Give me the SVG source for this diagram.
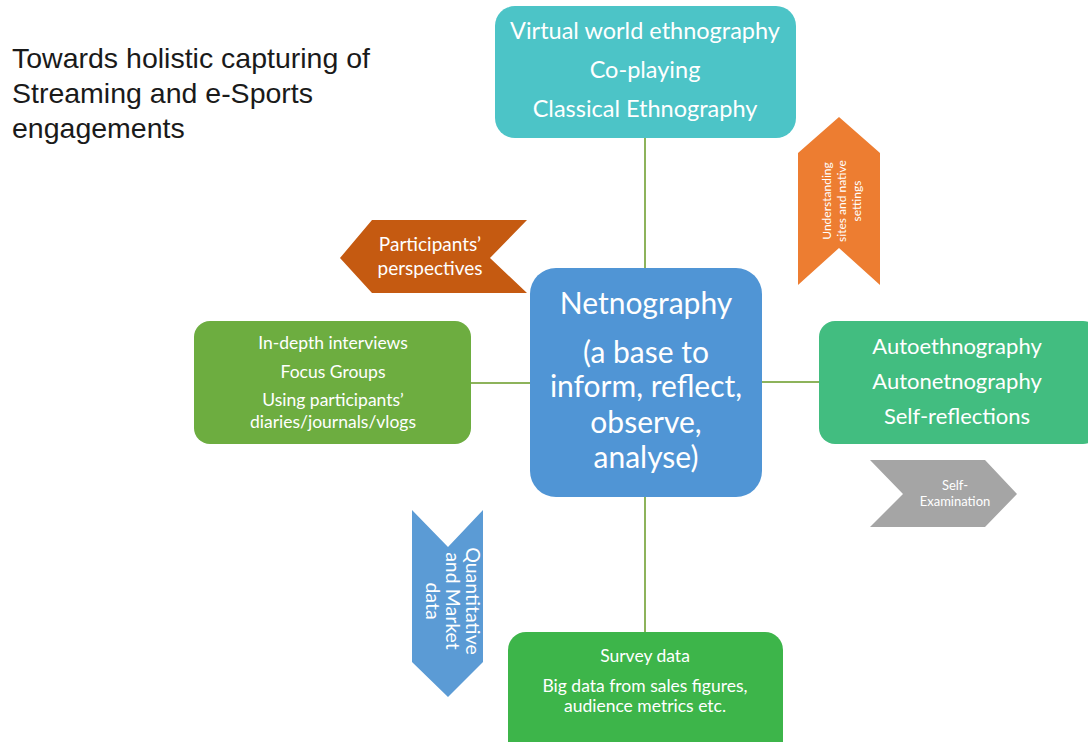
<svg xmlns="http://www.w3.org/2000/svg" width="1088" height="742" viewBox="0 0 1088 742">
<style>
.box text{fill:#fff;font-family:Lato,"Open Sans",sans-serif;text-anchor:middle}
.chev text{fill:#fff;font-family:Lato,"Open Sans",sans-serif;text-anchor:middle}
.title{font-family:"Liberation Sans",Arial,sans-serif;font-size:28.5px;fill:#1a1a1a}
.conn line{stroke:#8DB35B;stroke-width:2}
</style>
<rect width="1088" height="742" fill="#fff"/>
<g id="title">
<text class="title" x="12" y="68">Towards holistic capturing of</text>
<text class="title" x="12" y="103">Streaming and e-Sports</text>
<text class="title" x="12" y="138">engagements</text>
</g>
<g class="conn" id="connectors">
<line x1="645" y1="138" x2="645" y2="268"/>
<line x1="471" y1="383" x2="530" y2="383"/>
<line x1="762" y1="382" x2="819" y2="382"/>
<line x1="645" y1="497" x2="645" y2="632"/>
</g>
<g class="box" id="top">
<rect x="495" y="6" width="301" height="132" rx="20" fill="#4CC4C7"/>
<text x="645" y="39" font-size="23.5">Virtual world ethnography</text>
<text x="645" y="78" font-size="23.5">Co-playing</text>
<text x="645" y="117" font-size="23.5">Classical Ethnography</text>
</g>
<g class="box" id="center">
<rect x="530" y="268" width="232" height="229" rx="26" fill="#5095D5"/>
<text x="646" y="314" font-size="30">Netnography</text>
<text x="646" y="363" font-size="30">(a base to</text>
<text x="646" y="397" font-size="30">inform, reflect,</text>
<text x="646" y="433" font-size="30">observe,</text>
<text x="646" y="468" font-size="30">analyse)</text>
</g>
<g class="box" id="left">
<rect x="194" y="321" width="277" height="123" rx="16" fill="#6DAD40"/>
<text x="333" y="349" font-size="17.5">In-depth interviews</text>
<text x="333" y="378" font-size="17.5">Focus Groups</text>
<text x="333" y="406" font-size="17.5">Using participants’</text>
<text x="333" y="428" font-size="17.5">diaries/journals/vlogs</text>
</g>
<g class="box" id="right">
<rect x="819" y="321" width="280" height="123" rx="16" fill="#42BD80"/>
<text x="957" y="354" font-size="22">Autoethnography</text>
<text x="957" y="389" font-size="22">Autonetnography</text>
<text x="957" y="424" font-size="22">Self-reflections</text>
</g>
<g class="box" id="bottom">
<rect x="508" y="632" width="275" height="130" rx="18" fill="#3DB54A"/>
<text x="645" y="662" font-size="17.5">Survey data</text>
<text x="645" y="692" font-size="17.5">Big data from sales figures,</text>
<text x="645" y="712" font-size="17.5">audience metrics etc.</text>
</g>
<g class="chev" id="understanding">
<polygon points="839,117 880,153 880,285 839,248 798,285 798,153" fill="#ED7D31"/>
<g transform="translate(842,201) rotate(-90)">
<text x="0" y="-11" font-size="12">Understanding</text>
<text x="0" y="4" font-size="12">sites and native</text>
<text x="0" y="19" font-size="12">settings</text>
</g>
</g>
<g class="chev" id="participants">
<polygon points="340,258 372,220 527,220 490,258 527,293 372,293" fill="#C55A11"/>
<text x="430" y="251" font-size="19">Participants’</text>
<text x="430" y="275" font-size="19">perspectives</text>
</g>
<g class="chev" id="selfexam">
<polygon points="870,460 985,460 1017,494 985,527 870,527 903,494" fill="#A5A5A5"/>
<text x="955" y="490" font-size="13">Self-</text>
<text x="955" y="506" font-size="13">Examination</text>
</g>
<g class="chev" id="quant">
<polygon points="412,510 448,547 483,510 483,662 448,697 412,662" fill="#5B9BD5"/>
<g transform="translate(452,601) rotate(90)">
<text x="0" y="-14" font-size="19.5">Quantitative</text>
<text x="0" y="6" font-size="19.5">and Market</text>
<text x="0" y="26" font-size="19.5">data</text>
</g>
</g>
</svg>
